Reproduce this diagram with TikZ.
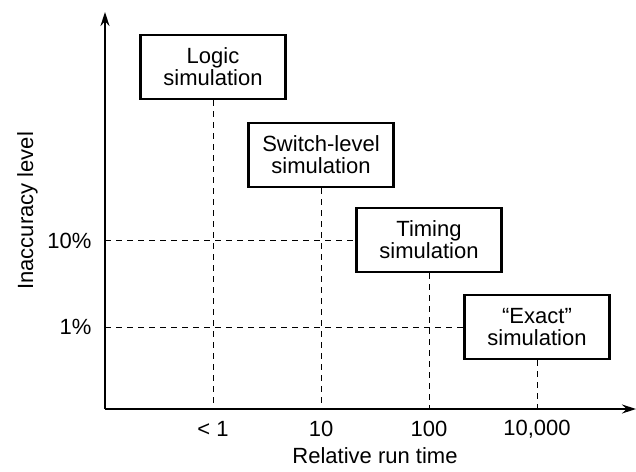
\documentclass[tikz,border=0pt]{standalone}
\usepackage{fontspec}
\setmainfont{Liberation Sans}
\usetikzlibrary{arrows.meta}
\begin{document}
\begin{tikzpicture}[x=1pt,y=-1pt,>={Stealth[length=14pt,width=9pt]},font=\fontsize{22}{22}\selectfont,
 simbox/.style={draw,line width=2.2pt,minimum width=145pt,minimum height=64pt,align=center,inner sep=0pt},
 guide/.style={dash pattern=on 6pt off 5pt,line width=0.9pt}]
 \useasboundingbox (0,0) rectangle (636,471);
 \coordinate (O) at (105,409);
 \coordinate (xend) at (636,409);
 \coordinate (yend) at (105,12);
 \draw[->,line width=1.3pt] (O) -- (xend);
 \draw[->,line width=1.3pt] (O) -- (yend);
 % the four kinds of simulation
 \node[simbox] (logic) at (213,67) {Logic\\simulation};
 \node[simbox] (switch) at (321,155) {Switch-level\\simulation};
 \node[simbox] (timing) at (429,240) {Timing\\simulation};
 \node[simbox] (exact) at (537,327) {``Exact''\\simulation};
 % run time
 \node (t1) at (213,429) {< 1};
 \node (t10) at (321,429) {10};
 \node (t100) at (429,429) {100};
 \node (t10k) at (537,429) {10,000};
 \node (xlab) at (375,456) {Relative run time};
 % inaccuracy
 \node[anchor=east] (p10) at (95,241) {10\%};
 \node[anchor=east] (p1) at (95,327) {1\%};
 \node[rotate=90,anchor=base west,inner sep=0pt] (ylab) at (33,290) {Inaccuracy level};
 \draw[guide] (logic.south) -- (logic.south |- O) (switch.south) -- (switch.south |- O)
  (timing.south) -- (timing.south |- O) (exact.south) -- (exact.south |- O);
 \draw[guide] (O |- timing.west) -- (timing.west) (O |- exact.west) -- (exact.west);
\end{tikzpicture}
\end{document}
